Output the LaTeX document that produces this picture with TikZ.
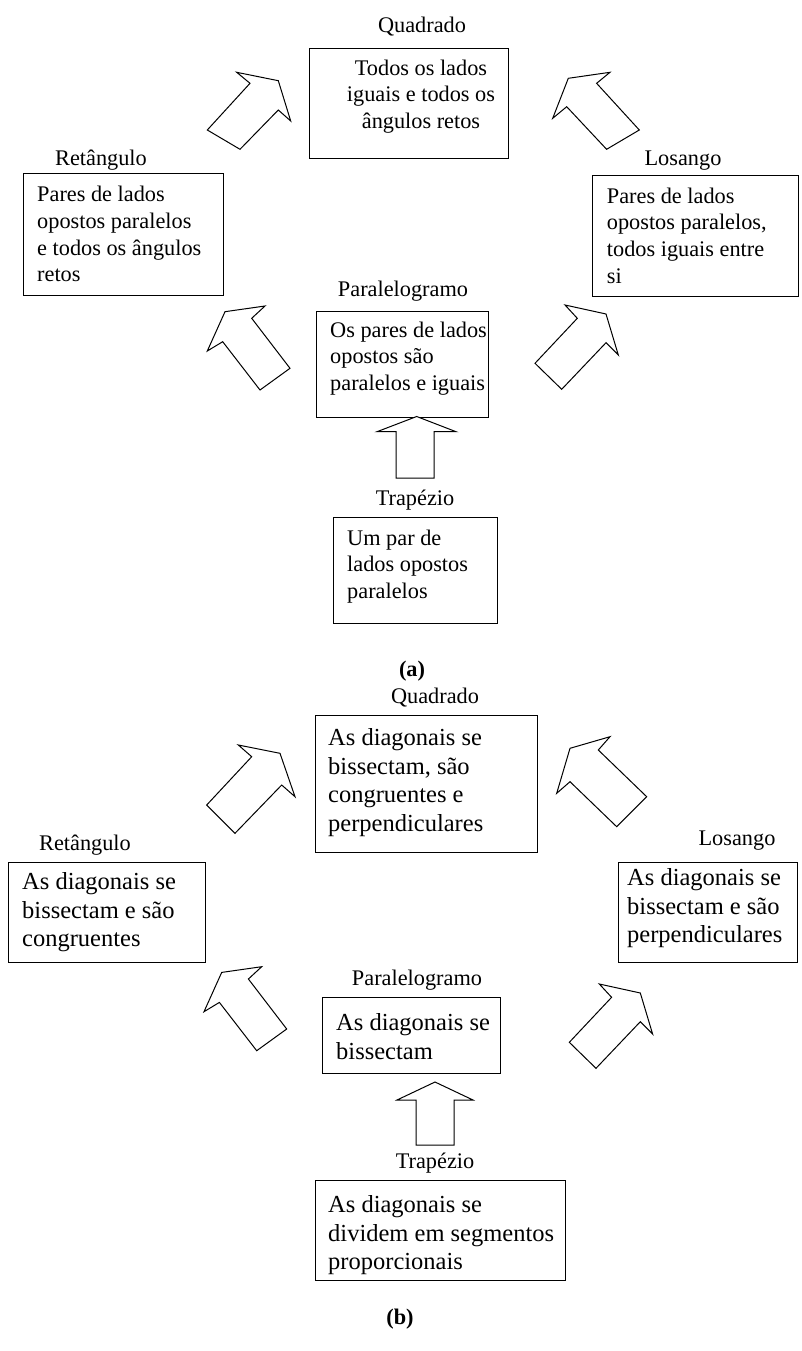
\documentclass[tikz,border=0pt]{standalone}
\usepackage{fontspec}
\setmainfont{Liberation Serif}
\begin{document}
\begin{tikzpicture}[x=1pt,y=-1pt,
  box/.style={draw, line width=1.2pt, inner sep=0, anchor=north west},
  ta/.style={font=\fontsize{22.3}{26.7}\selectfont, inner sep=0, align=left, anchor=north west},
  tb/.style={font=\fontsize{24.5}{28.5}\selectfont, inner sep=0, align=left, anchor=north west},
  lab/.style={font=\fontsize{22.3}{26}\selectfont, inner sep=0, anchor=base},
  capt/.style={font=\fontsize{22.3}{26}\selectfont\bfseries, inner sep=0, anchor=base},
  arr/.style={draw, line width=1pt, fill=white, line join=miter}]
\fill[white] (0,0) rectangle (802,1351);
\useasboundingbox (0,0) rectangle (802,1351);

% ---------------- (a) ----------------
\node[lab] (qAl) at (422,33) {Quadrado};
\node[box, minimum width=199pt, minimum height=110pt] (qA) at (309,48) {};
\node[ta, align=center, anchor=north] (qAt) at (421,56.3) {\strut Todos os lados\\iguais e todos os\\ângulos retos};

\node[lab] (rAl) at (101,165.7) {Retângulo};
\node[box, minimum width=200pt, minimum height=122pt] (rA) at (23,173) {};
\node[ta] (rAt) at (37,183) {\strut Pares de lados\\opostos paralelos\\e todos os ângulos\\retos};

\node[lab] (lAl) at (683,165.7) {Losango};
\node[box, minimum width=206pt, minimum height=121pt] (lA) at (592,175) {};
\node[ta] (lAt) at (606.7,184.3) {\strut Pares de lados\\opostos paralelos,\\todos iguais entre\\si};

\node[lab] (pAl) at (403,296) {Paralelogramo};
\node[box, minimum width=172pt, minimum height=106pt] (pA) at (316,310.5) {};
\node[ta] (pAt) at (330,318.3) {\strut Os pares de lados\\opostos são\\paralelos e iguais};

\node[lab] (tAl) at (415,505) {Trapézio};
\node[box, minimum width=164pt, minimum height=106pt] (tA) at (333,517) {};
\node[ta] (tAt) at (347,526.3) {\strut Um par de\\lados opostos\\paralelos};

\node[capt] (capA) at (412,676) {(a)};

% arrows (a)
\draw[arr] (207.3,130) -- (250,83.3) -- (236.7,72.3) -- (278.3,80.7) -- (290.7,121) -- (278.3,110) -- (240,149.3) -- cycle;
\draw[arr] (639.3,130) -- (596.6,83.3) -- (610,72.3) -- (568.3,78.3) -- (552.7,118.3) -- (566.7,106.7) -- (606.6,149.3) -- cycle;
\draw[arr] (225,311.7) -- (265,306) -- (251.7,318.3) -- (290,368.3) -- (260,390) -- (222.7,341.7) -- (207.3,351) -- cycle;
\draw[arr] (565,305) -- (606,314) -- (618.3,355) -- (606,342.7) -- (561.7,389.3) -- (535,363.3) -- (577.3,318.3) -- cycle;
\draw[arr] (416.7,416.5) -- (456,431.7) -- (434,431.7) -- (434,478) -- (396,478) -- (396,431.7) -- (377,431.7) -- cycle;

% ---------------- (b) ----------------
\node[lab] (qBl) at (435,703) {Quadrado};
\node[box, minimum width=222pt, minimum height=137pt] (qB) at (315,715) {};
\node[tb] (qBt) at (328,725.6) {\strut As diagonais se\\bissectam, são\\congruentes e\\perpendiculares};

\node[lab] (rBl) at (85,850) {Retângulo};
\node[box, minimum width=197pt, minimum height=100pt] (rB) at (8,862) {};
\node[tb] (rBt) at (22,869.7) {\strut As diagonais se\\bissectam e são\\congruentes};

\node[lab] (lBl) at (737,845) {Losango};
\node[box, minimum width=179pt, minimum height=100pt] (lB) at (618,862) {};
\node[tb] (lBt) at (627,865.6) {\strut As diagonais se\\bissectam e são\\perpendiculares};

\node[lab] (pBl) at (417,985) {Paralelogramo};
\node[box, minimum width=178pt, minimum height=76pt] (pB) at (322,997) {};
\node[tb] (pBt) at (336,1010.6) {\strut As diagonais se\\bissectam};

\node[lab] (tBl) at (435,1168) {Trapézio};
\node[box, minimum width=250pt, minimum height=100pt] (tB) at (315,1180) {};
\node[tb] (tBt) at (328,1192.6) {\strut As diagonais se\\dividem em segmentos\\proporcionais};

\node[capt] (capB) at (400,1324) {(b)};

% arrows (b)
\draw[arr] (238.3,745) -- (280,753.3) -- (295,796.7) -- (281.7,785) -- (235,833.3) -- (206.7,805) -- (251.7,756.7) -- cycle;
\draw[arr] (610,736.7) -- (570,748.3) -- (556.7,793.3) -- (570,781.7) -- (616.7,826.7) -- (646.7,796.7) -- (598.3,750) -- cycle;
\begin{scope}[shift={(-3.3,660.7)}]
\draw[arr] (225,311.7) -- (265,306) -- (251.7,318.3) -- (290,368.3) -- (260,390) -- (222.7,341.7) -- (207.3,351) -- cycle;
\end{scope}
\begin{scope}[shift={(34.3,679)}]
\draw[arr] (565,305) -- (606,314) -- (618.3,355) -- (606,342.7) -- (561.7,389.3) -- (535,363.3) -- (577.3,318.3) -- cycle;
\end{scope}
\draw[arr] (435,1082) -- (473,1100) -- (454,1100) -- (454,1145) -- (416,1145) -- (416,1100) -- (397,1100) -- cycle;
\end{tikzpicture}
\end{document}
